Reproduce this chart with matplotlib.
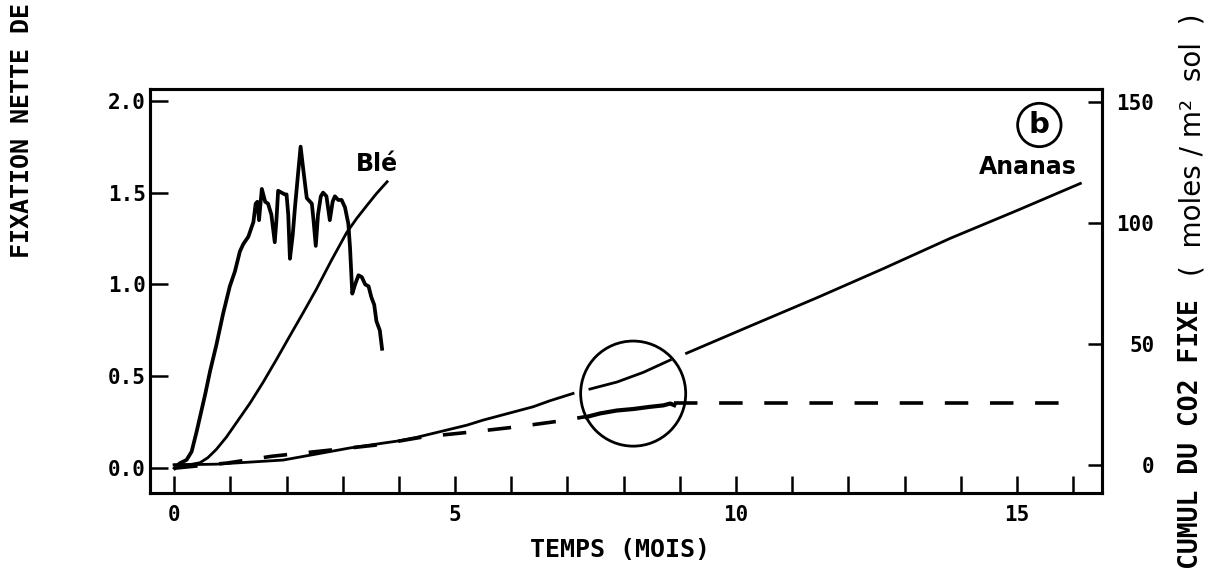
import matplotlib.pyplot as plt
from matplotlib.patches import Ellipse

# Blé : fixation nette (axe de gauche), courbe épaisse
ble_t = [0.01, 0.10, 0.22, 0.31, 0.40, 0.46, 0.55, 0.64, 0.75, 0.87, 0.99, 1.08, 1.17,
         1.23, 1.32, 1.41, 1.45, 1.48, 1.51, 1.56, 1.62, 1.67, 1.73, 1.79, 1.82, 1.85,
         1.91, 1.97, 2.00, 2.03, 2.06, 2.11, 2.15, 2.21, 2.25, 2.30, 2.36, 2.42, 2.45,
         2.48, 2.52, 2.56, 2.61, 2.65, 2.71, 2.77, 2.82, 2.86, 2.92, 2.98, 3.04, 3.10,
         3.13, 3.17, 3.22, 3.28, 3.34, 3.40, 3.46, 3.51, 3.56, 3.60, 3.66, 3.70]
ble_fix = [0.0, 0.027, 0.045, 0.09, 0.20, 0.28, 0.40, 0.53, 0.67, 0.84, 0.99, 1.07, 1.18,
           1.22, 1.26, 1.34, 1.44, 1.45, 1.35, 1.52, 1.45, 1.44, 1.38, 1.23, 1.35, 1.51,
           1.50, 1.49, 1.49, 1.38, 1.14, 1.27, 1.42, 1.62, 1.75, 1.62, 1.47, 1.45, 1.44,
           1.35, 1.21, 1.38, 1.48, 1.50, 1.48, 1.35, 1.45, 1.48, 1.46, 1.46, 1.42, 1.33,
           1.20, 0.95, 1.00, 1.05, 1.04, 1.00, 0.99, 0.93, 0.89, 0.80, 0.75, 0.65]

# Blé : cumul du CO2 fixé (axe de droite), trait fin
ble_cum_t = [0.0, 0.30, 0.46, 0.60, 0.75, 0.93, 1.11, 1.35, 1.58, 1.82, 2.06, 2.30,
             2.53, 2.80, 3.07, 3.25, 3.43, 3.60, 3.79]
ble_cum = [0.0, 0.2, 0.9, 3.0, 6.4, 11.5, 17.5, 25.5, 34.0, 43.5, 53.3, 63.0,
           72.5, 84.5, 95.9, 101.8, 107.1, 112.0, 116.9]

# Ananas : cumul (axe de droite), coupé au passage du cercle
ananas_t1 = [0.0, 0.75, 1.94, 3.13, 4.02, 4.32, 5.21, 5.50, 6.39, 6.69, 7.10]
ananas_cum1 = [0.0, 0.3, 2.0, 7.0, 10.0, 11.4, 16.4, 18.5, 24.0, 26.5, 29.5]
ananas_t2 = [7.40, 7.88, 8.35, 8.83]
ananas_cum2 = [31.3, 34.2, 38.2, 43.3]
ananas_t3 = [9.12, 10.25, 11.44, 12.62, 13.81, 15.00, 16.13]
ananas_cum3 = [46.1, 57.3, 69.0, 81.0, 93.5, 105.0, 116.2]

# Ananas : fixation nette (axe de gauche), tirets + mesures dans le cercle
ananas_fix_t1 = [0.0, 0.94, 1.74, 2.67, 3.57, 4.43, 5.26, 6.10, 6.94, 7.31]
ananas_fix1 = [0.0, 0.028, 0.065, 0.095, 0.125, 0.17, 0.196, 0.225, 0.26, 0.28]
ananas_mes_t = [7.34, 7.58, 7.88, 8.17, 8.47, 8.71, 8.83, 8.90]
ananas_mes = [0.279, 0.298, 0.314, 0.322, 0.334, 0.342, 0.352, 0.343]
ananas_fix_t2 = [8.90, 16.0]
ananas_fix2 = [0.355, 0.355]

x_ticks = list(range(17))
x_labels = [str(i) if i % 5 == 0 else '' for i in x_ticks]
y_ticks = [0.0, 0.5, 1.0, 1.5, 2.0]
y_labels = ['0.0', '0.5', '1.0', '1.5', '2.0']
y2_ticks = [0, 50, 100, 150]

plt.rcParams['font.family'] = 'DejaVu Sans Mono'
plt.rcParams['font.weight'] = 'bold'

fig = plt.figure(figsize=(12.1, 5.7), dpi=100)
ax = fig.add_axes([0.124, 0.1351, 0.7865, 0.7088])
ax2 = ax.twinx()

ax.plot(ble_t, ble_fix, color='k', lw=2.7, solid_joinstyle='round')
ax2.plot(ble_cum_t, ble_cum, color='k', lw=2.0)
ax2.plot(ananas_t1, ananas_cum1, color='k', lw=2.0)
ax2.plot(ananas_t2, ananas_cum2, color='k', lw=2.0)
ax2.plot(ananas_t3, ananas_cum3, color='k', lw=2.0)
ax.plot(ananas_fix_t1, ananas_fix1, color='k', lw=2.6, linestyle=(0, (6.5, 6)))
ax.plot(ananas_mes_t, ananas_mes, color='k', lw=3.0)
ax.plot(ananas_fix_t2, ananas_fix2, color='k', lw=2.6, linestyle=(0, (6.5, 6)))

ax.set_xlim(-0.43, 16.51)
ax.set_ylim(-0.135, 2.064)
ax2.set_ylim(-11.6, 155.2)

ax.set_xticks(x_ticks, labels=x_labels)
ax.set_yticks(y_ticks, labels=y_labels)
ax2.set_yticks(y2_ticks)

ax.tick_params(axis='x', direction='in', length=12, width=1.8, pad=9, labelsize=15)
ax.tick_params(axis='y', direction='in', length=13, width=1.8, pad=3, labelsize=15)
ax2.tick_params(axis='y', direction='in', length=10, width=1.8, pad=38, labelsize=15)
for lbl in ax2.get_yticklabels():
    lbl.set_horizontalalignment('right')

for a in (ax, ax2):
    for s in a.spines.values():
        s.set_linewidth(2.2)

# cercle autour de la période mesurée
ax.add_patch(Ellipse((8.17, 0.406), 1.87, 0.572, fill=False, lw=2.0, ec='k'))
# repère (b)
ax.add_patch(Ellipse((15.40, 1.868), 0.773, 0.236, fill=False, lw=2.0, ec='k'))
ax.text(15.40, 1.868, 'b', family='DejaVu Sans', fontsize=21, fontweight='bold',
        ha='center', va='center')

ax.text(3.61, 1.656, 'Blé', family='DejaVu Sans', fontsize=17, fontweight='bold',
        ha='center', va='center')
ax.text(15.20, 1.64, 'Ananas', family='DejaVu Sans', fontsize=17, fontweight='bold',
        ha='center', va='center')

fig.text(0.512, 0.035, 'TEMPS (MOIS)', fontsize=18, ha='center', va='center')
fig.text(22 / 1210, 1 - 3 / 570, 'FIXATION NETTE DE', fontsize=18,
         rotation=90, ha='center', va='top')
fig.text(1191 / 1210, 0.002, 'CUMUL DU CO2 FIXE', fontsize=19,
         rotation=90, ha='center', va='bottom')
fig.text(1193 / 1210, 1 - 276 / 570, '(  moles / m²  sol  )', family='DejaVu Sans',
         fontsize=20, fontweight='normal', rotation=90, ha='center', va='bottom')

fig.savefig('out.png', dpi=100)
